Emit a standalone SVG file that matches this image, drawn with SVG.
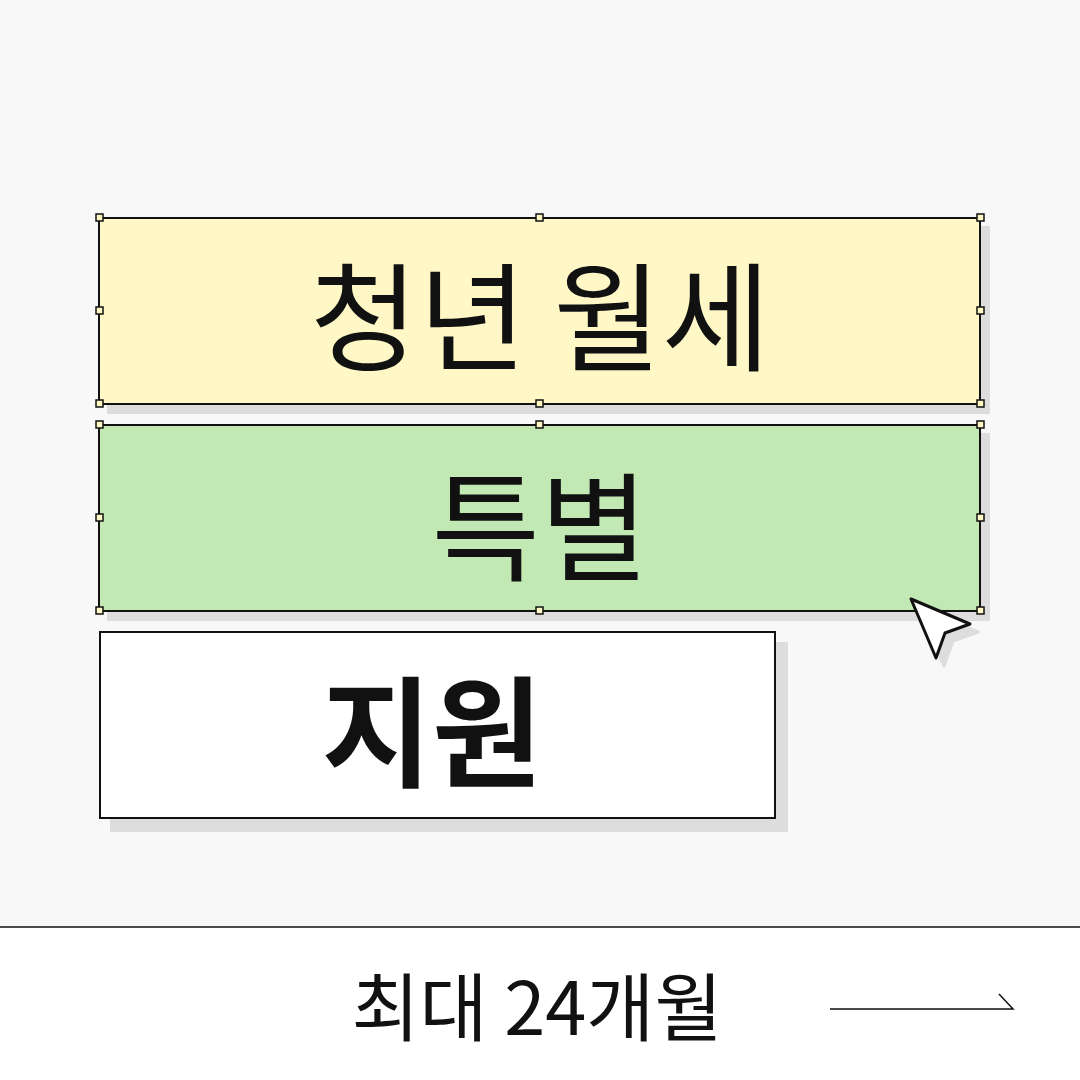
<svg xmlns="http://www.w3.org/2000/svg" width="1080" height="1080" viewBox="0 0 1080 1080">
<style>
.sh{fill:#dddddd}
.box{stroke:#111;stroke-width:2}
.h{fill:#fff8c4;stroke:#111;stroke-width:1.5}
.t{font-family:"Noto Sans CJK KR","Noto Sans",sans-serif;fill:#111;text-anchor:middle}
</style>
<rect width="1080" height="1080" fill="#f8f8f8"/>
<rect y="927" width="1080" height="153" fill="#fff"/>
<line x1="0" y1="927" x2="1080" y2="927" stroke="#111" stroke-width="1.5"/>
<g id="n1">
<rect class="sh" x="107" y="226" width="883" height="188"/>
<rect class="box" x="99" y="218" width="881" height="186" fill="#fff8c6"/>
<text class="t" x="540" y="362" font-size="118">청년 월세</text>
</g>
<g id="n2">
<rect class="sh" x="107" y="433" width="883" height="188"/>
<rect class="box" x="99" y="425" width="881" height="186" fill="#c2e8b4"/>
<text class="t" x="540" y="572" font-size="118">특별</text>
</g>
<g id="n3">
<rect class="sh" x="110" y="642" width="678" height="190"/>
<rect class="box" x="100" y="632" width="675" height="186" fill="#fff"/>
<text class="t" x="432" y="778" font-size="120" font-weight="bold">지원</text>
</g>
<g id="handles">
<rect class="h" x="96" y="214" width="7" height="7"/><rect class="h" x="536" y="214" width="7" height="7"/><rect class="h" x="977" y="214" width="7" height="7"/>
<rect class="h" x="96" y="307" width="7" height="7"/><rect class="h" x="977" y="307" width="7" height="7"/>
<rect class="h" x="96" y="400" width="7" height="7"/><rect class="h" x="536" y="400" width="7" height="7"/><rect class="h" x="977" y="400" width="7" height="7"/>
<rect class="h" x="96" y="421" width="7" height="7"/><rect class="h" x="536" y="421" width="7" height="7"/><rect class="h" x="977" y="421" width="7" height="7"/>
<rect class="h" x="96" y="514" width="7" height="7"/><rect class="h" x="977" y="514" width="7" height="7"/>
<rect class="h" x="96" y="607" width="7" height="7"/><rect class="h" x="536" y="607" width="7" height="7"/><rect class="h" x="977" y="607" width="7" height="7"/>
</g>
<g id="cursor">
<path d="M918 607 L978 632 L953 641 L944 666 Z" fill="#dddddd" stroke="#dddddd" stroke-width="3" stroke-linejoin="round"/>
<path d="M911 599 L970 624 L945 633 L936 658 Z" fill="#fff" stroke="#111" stroke-width="3" stroke-linejoin="round"/>
</g>
<text class="t" x="537" y="1035" font-size="74">최대 24개월</text>
<g id="connectors">
<path d="M830 1009 H1013 L999 994" fill="none" stroke="#111" stroke-width="1.5"/>
</g>
</svg>
